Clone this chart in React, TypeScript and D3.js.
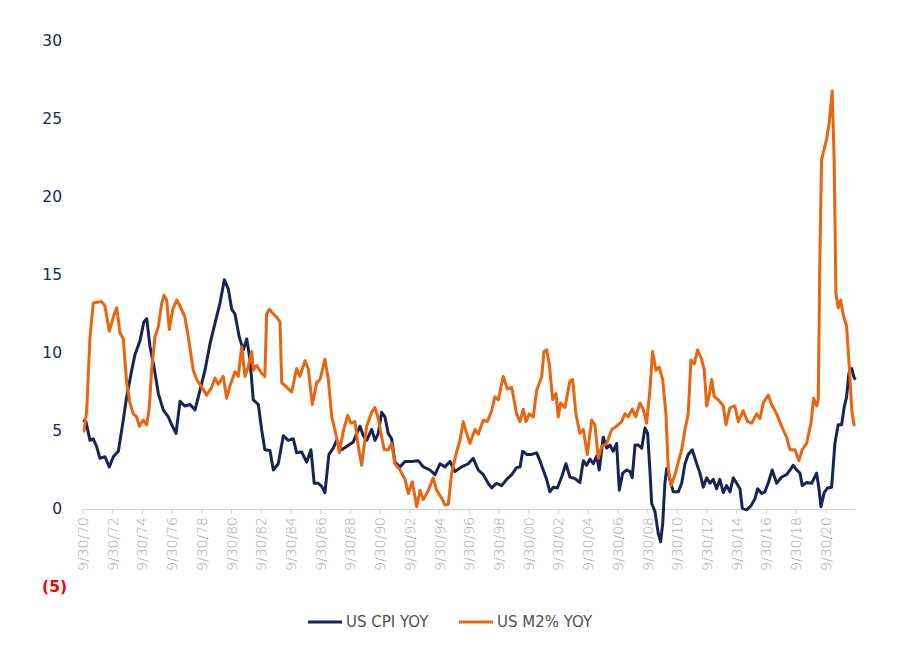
import React from "react";
import * as d3 from "d3";

// Decimal year, YoY %
const cpiSeries: [number, number][] = [
  [1970.75, 5.7], [1970.95, 5.6], [1971.22, 4.4], [1971.44, 4.5], [1971.67, 4.0], [1971.89, 3.25],
  [1972.23, 3.35], [1972.52, 2.7], [1972.79, 3.35], [1973.13, 3.7], [1973.46, 5.7], [1973.69, 7.2],
  [1974.03, 8.9], [1974.25, 9.9], [1974.59, 10.8], [1974.85, 12.0], [1975.04, 12.2], [1975.26, 10.4],
  [1975.53, 9.1], [1975.82, 7.4], [1976.15, 6.35], [1976.49, 5.9], [1976.72, 5.4], [1977.01, 4.85],
  [1977.28, 6.9], [1977.61, 6.6], [1977.95, 6.7], [1978.29, 6.35], [1978.62, 7.6], [1978.96, 8.9],
  [1979.3, 10.6], [1979.63, 11.9], [1979.97, 13.2], [1980.26, 14.7], [1980.53, 14.1], [1980.76, 12.8],
  [1980.98, 12.5], [1981.27, 11.0], [1981.54, 10.2], [1981.77, 10.9], [1981.99, 9.55], [1982.21, 7.0],
  [1982.55, 6.7], [1982.77, 5.1], [1982.99, 3.8], [1983.33, 3.75], [1983.56, 2.5], [1983.89, 2.9],
  [1984.23, 4.7], [1984.56, 4.4], [1984.9, 4.5], [1985.13, 3.6], [1985.47, 3.65], [1985.8, 3.0],
  [1986.09, 3.8], [1986.31, 1.65], [1986.58, 1.65], [1986.81, 1.45], [1987.03, 1.05], [1987.3, 3.5],
  [1987.59, 3.9], [1987.82, 4.4], [1988.16, 3.8], [1988.49, 4.0], [1988.94, 4.3], [1989.17, 4.85],
  [1989.39, 5.3], [1989.61, 4.7], [1989.84, 4.4], [1990.18, 5.1], [1990.4, 4.4], [1990.62, 4.85],
  [1990.85, 6.2], [1991.07, 5.9], [1991.29, 4.85], [1991.52, 4.5], [1991.74, 3.0], [1992.08, 2.7],
  [1992.42, 3.05], [1992.87, 3.05], [1993.31, 3.1], [1993.65, 2.7], [1994.1, 2.5], [1994.44, 2.2],
  [1994.77, 2.9], [1995.11, 2.7], [1995.45, 3.05], [1995.78, 2.4], [1996.23, 2.7], [1996.68, 2.9],
  [1997.01, 3.25], [1997.35, 2.5], [1997.69, 2.2], [1998.02, 1.65], [1998.25, 1.35], [1998.59, 1.65],
  [1998.92, 1.5], [1999.26, 1.9], [1999.6, 2.2], [1999.93, 2.65], [2000.16, 2.7], [2000.34, 3.7],
  [2000.61, 3.5], [2000.94, 3.5], [2001.28, 3.6], [2001.5, 3.1], [2001.72, 2.5], [2001.95, 1.9],
  [2002.17, 1.1], [2002.4, 1.4], [2002.67, 1.35], [2002.96, 2.05], [2003.25, 2.9], [2003.52, 2.05],
  [2003.86, 1.95], [2004.19, 1.7], [2004.42, 3.1], [2004.64, 2.8], [2004.87, 3.2], [2005.09, 2.9],
  [2005.32, 3.4], [2005.49, 2.5], [2005.76, 4.6], [2005.99, 3.9], [2006.21, 4.1], [2006.43, 3.7],
  [2006.66, 4.2], [2006.84, 1.2], [2007.07, 2.3], [2007.34, 2.5], [2007.56, 2.4], [2007.71, 2.0],
  [2007.9, 4.1], [2008.12, 4.1], [2008.35, 3.9], [2008.57, 5.2], [2008.75, 4.85], [2008.9, 2.5],
  [2009.02, 0.35], [2009.24, -0.15], [2009.46, -1.55], [2009.62, -2.1], [2009.76, -0.95], [2009.91, 1.65],
  [2010.03, 2.6], [2010.14, 2.3], [2010.47, 1.1], [2010.81, 1.1], [2011.04, 1.65], [2011.26, 2.9],
  [2011.48, 3.5], [2011.75, 3.8], [2012.05, 2.9], [2012.27, 2.3], [2012.49, 1.4], [2012.72, 2.0],
  [2012.94, 1.65], [2013.16, 1.9], [2013.39, 1.3], [2013.61, 1.9], [2013.84, 1.05], [2014.06, 1.5],
  [2014.29, 1.1], [2014.51, 2.0], [2014.74, 1.65], [2014.96, 1.3], [2015.12, 0.05], [2015.41, -0.05],
  [2015.7, 0.2], [2015.97, 0.65], [2016.15, 1.3], [2016.42, 1.0], [2016.64, 1.1], [2016.86, 1.65],
  [2017.13, 2.5], [2017.43, 1.65], [2017.77, 2.05], [2018.1, 2.2], [2018.55, 2.8], [2018.78, 2.5],
  [2019.0, 2.3], [2019.15, 1.5], [2019.45, 1.7], [2019.79, 1.65], [2020.12, 2.3], [2020.28, 1.3],
  [2020.41, 0.15], [2020.63, 1.05], [2020.86, 1.35], [2021.13, 1.4], [2021.35, 4.2], [2021.57, 5.4],
  [2021.8, 5.4], [2021.98, 6.55], [2022.14, 7.2], [2022.29, 8.7], [2022.48, 9.0], [2022.65, 8.4],
  [2022.75, 8.3],
];

const m2Series: [number, number][] = [
  [1970.75, 5.0], [1970.82, 5.0], [1971.0, 6.3], [1971.22, 11.0], [1971.44, 13.2], [1972.01, 13.3],
  [1972.23, 13.0], [1972.52, 11.4], [1972.79, 12.3], [1973.02, 12.9], [1973.24, 11.3], [1973.46, 10.9],
  [1973.69, 8.1], [1973.91, 6.8], [1974.13, 6.1], [1974.36, 5.9], [1974.54, 5.3], [1974.81, 5.7],
  [1975.04, 5.4], [1975.21, 6.5], [1975.37, 8.9], [1975.59, 11.0], [1975.82, 11.7], [1976.05, 13.2],
  [1976.2, 13.7], [1976.38, 13.4], [1976.56, 11.5], [1976.79, 12.8], [1977.06, 13.4], [1977.28, 13.0],
  [1977.61, 12.3], [1977.84, 11.0], [1978.17, 8.9], [1978.4, 8.3], [1978.74, 7.8], [1979.07, 7.3],
  [1979.41, 7.8], [1979.63, 8.4], [1979.86, 8.0], [1980.19, 8.5], [1980.42, 7.1], [1980.64, 7.9],
  [1980.98, 8.8], [1981.2, 8.5], [1981.43, 10.4], [1981.65, 8.5], [1981.87, 9.1], [1982.1, 10.1],
  [1982.21, 8.9], [1982.44, 9.2], [1982.77, 8.7], [1982.99, 8.5], [1983.11, 12.5], [1983.29, 12.8],
  [1983.56, 12.5], [1983.78, 12.3], [1984.01, 12.0], [1984.12, 8.1], [1984.46, 7.8], [1984.79, 7.5],
  [1985.13, 9.0], [1985.35, 8.5], [1985.69, 9.5], [1985.91, 9.0], [1986.18, 6.7], [1986.48, 8.1],
  [1986.7, 8.3], [1987.03, 9.6], [1987.26, 8.3], [1987.49, 5.9], [1987.82, 4.6], [1988.0, 3.6],
  [1988.27, 5.0], [1988.56, 6.0], [1988.78, 5.5], [1989.05, 5.6], [1989.28, 4.0], [1989.5, 2.8],
  [1989.84, 5.3], [1990.18, 6.2], [1990.4, 6.5], [1990.62, 5.8], [1990.8, 4.85], [1991.02, 3.8],
  [1991.29, 3.8], [1991.52, 4.2], [1991.74, 2.9], [1992.08, 2.5], [1992.42, 1.9], [1992.64, 1.0],
  [1992.91, 1.75], [1993.21, 0.15], [1993.43, 1.2], [1993.65, 0.6], [1993.99, 1.2], [1994.32, 2.0],
  [1994.55, 1.2], [1994.89, 0.7], [1995.11, 0.25], [1995.33, 0.3], [1995.56, 2.3], [1995.9, 3.7],
  [1996.12, 4.4], [1996.34, 5.6], [1996.57, 4.85], [1996.79, 4.2], [1997.13, 5.1], [1997.35, 4.8],
  [1997.69, 5.7], [1997.96, 5.6], [1998.25, 6.3], [1998.47, 7.2], [1998.7, 7.0], [1999.03, 8.5],
  [1999.3, 7.7], [1999.6, 7.8], [1999.93, 6.1], [2000.16, 5.6], [2000.38, 6.4], [2000.56, 5.6],
  [2000.78, 6.1], [2001.05, 5.9], [2001.28, 7.6], [2001.62, 8.5], [2001.77, 10.1], [2001.95, 10.2],
  [2002.13, 9.3], [2002.36, 7.0], [2002.58, 7.4], [2002.73, 5.9], [2002.89, 6.8], [2003.18, 6.5],
  [2003.52, 8.2], [2003.7, 8.3], [2003.92, 6.1], [2004.19, 4.85], [2004.42, 5.1], [2004.69, 3.5],
  [2004.98, 5.7], [2005.2, 5.4], [2005.43, 3.25], [2005.65, 4.0], [2005.99, 4.2], [2006.33, 5.1],
  [2006.66, 5.3], [2006.99, 5.6], [2007.22, 6.1], [2007.44, 5.9], [2007.71, 6.4], [2007.94, 5.9],
  [2008.23, 6.8], [2008.45, 6.4], [2008.68, 5.5], [2008.9, 7.6], [2009.08, 10.1], [2009.31, 8.9],
  [2009.53, 9.1], [2009.76, 8.3], [2009.98, 6.1], [2010.14, 2.5], [2010.32, 1.5], [2010.59, 2.2],
  [2010.81, 3.0], [2011.04, 3.8], [2011.26, 5.1], [2011.48, 6.1], [2011.66, 9.55], [2011.89, 9.3],
  [2012.11, 10.2], [2012.38, 9.6], [2012.56, 8.9], [2012.72, 6.6], [2012.87, 7.2], [2013.06, 8.3],
  [2013.23, 7.2], [2013.5, 7.0], [2013.84, 6.6], [2014.02, 5.4], [2014.29, 6.5], [2014.62, 6.6],
  [2014.85, 5.6], [2015.18, 6.3], [2015.48, 5.6], [2015.75, 5.5], [2016.08, 6.1], [2016.31, 5.8],
  [2016.53, 6.8], [2016.87, 7.3], [2017.09, 6.7], [2017.43, 6.1], [2017.77, 5.3], [2018.1, 4.6],
  [2018.32, 3.8], [2018.66, 3.8], [2018.93, 3.1], [2019.15, 3.8], [2019.45, 4.2], [2019.74, 5.5],
  [2019.92, 7.1], [2020.12, 6.6], [2020.23, 7.0], [2020.34, 16.0], [2020.45, 22.4], [2020.61, 23.0],
  [2020.79, 23.7], [2020.96, 24.7], [2021.17, 26.8], [2021.3, 22.4], [2021.42, 13.8], [2021.57, 12.9],
  [2021.74, 13.4], [2021.9, 12.5], [2022.14, 11.7], [2022.36, 8.5], [2022.49, 6.3], [2022.65, 5.3],
];

const tickYears: number[] = d3.range(1970, 2021, 2);
const tickLabels: string[] = tickYears.map((y) => `9/30/${String(y % 100).padStart(2, "0")}`);
const yTicks: number[] = [30, 25, 20, 15, 10, 5, 0, -5];
const seriesNames: string[] = ["US CPI YOY", "US M2% YOY"];

const NAVY = "#172455";
const ORANGE = "#e9650f";

export default function App() {
  const width = 900;
  const height = 652;
  const x = d3.scaleLinear().domain([1970.75, 2022.75]).range([83, 855.7]);
  const y = d3.scaleLinear().domain([-5, 30]).range([587, 41]);
  const line = d3
    .line<[number, number]>()
    .x((d) => x(d[0]))
    .y((d) => y(d[1]));

  const fmtY = (v: number) => (v < 0 ? `(${Math.abs(v)})` : `${v}`);

  return (
    <svg
      width={width}
      height={height}
      style={{ position: "absolute", left: 0, top: 0, display: "block", background: "#fff" }}
    >
      {/* y labels */}
      {yTicks.map((v) => (
        <text
          key={v}
          x={v < 0 ? 67 : 62}
          y={y(v)}
          dy="0.35em"
          textAnchor="end"
          fontFamily="'DejaVu Sans', sans-serif"
          fontSize={15.5}
          fontWeight={v < 0 ? "bold" : "normal"}
          fill={v < 0 ? "#ff0000" : "#1b2656"}
        >
          {fmtY(v)}
        </text>
      ))}

      {/* x axis */}
      <line x1={x(1970.75)} x2={x(2022.75)} y1={y(0) + 0.5} y2={y(0) + 0.5} stroke="#d0d0d0" strokeWidth={1} />
      {tickYears.map((yr, i) => {
        const px = x(yr + 0.75);
        return (
          <g key={yr}>
            <line x1={px} x2={px} y1={y(0)} y2={y(0) + 5} stroke="#d0d0d0" strokeWidth={1} />
            <text
              transform={`translate(${px},${y(0) + 8}) rotate(-90)`}
              textAnchor="end"
              dy="0.35em"
              fontFamily="'DejaVu Sans', sans-serif"
              fontWeight={200}
              fontSize={14}
              fill="#a6a6a6"
            >
              {tickLabels[i]}
            </text>
          </g>
        );
      })}

      {/* lines */}
      <path d={line(cpiSeries) || ""} fill="none" stroke={NAVY} strokeWidth={3} strokeLinejoin="round" />
      <path d={line(m2Series) || ""} fill="none" stroke={ORANGE} strokeWidth={3} strokeLinejoin="round" />

      {/* legend */}
      <g fontFamily="'DejaVu Sans', sans-serif" fontSize={15} fill="#505050">
        <line x1={308} x2={342} y1={622} y2={622} stroke={NAVY} strokeWidth={3} />
        <text x={346} y={622} dy="0.35em">{seriesNames[0]}</text>
        <line x1={459} x2={493} y1={622} y2={622} stroke={ORANGE} strokeWidth={3} />
        <text x={497} y={622} dy="0.35em">{seriesNames[1]}</text>
      </g>
    </svg>
  );
}
